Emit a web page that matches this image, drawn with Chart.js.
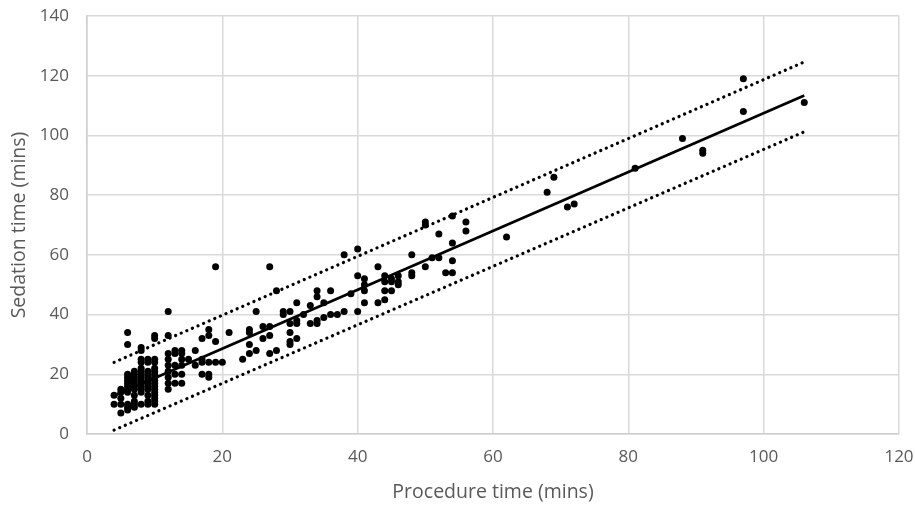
<!DOCTYPE html>
<html>
<head>
<meta charset="utf-8">
<script src="https://cdn.jsdelivr.net/npm/chart.js@4.4.1/dist/chart.umd.min.js"></script>
<style>
  html, body { margin: 0; padding: 0; background: #fff; }
  #wrap { width: 915px; height: 506px; }
</style>
</head>
<body>
<div id="wrap"><canvas id="sedationChart"></canvas></div>
<script>
// procedure time (x) and sedation time (y), one entry per patient
const procTime = [
  4, 4,
  5, 5, 5, 5, 5,
  6, 6, 6, 6, 6, 6, 6, 6, 6, 6, 6, 6,
  7, 7, 7, 7, 7, 7, 7, 7, 7, 7, 7,
  8, 8, 8, 8, 8, 8, 8, 8, 8, 8, 8, 8, 8, 8,
  9, 9, 9, 9, 9, 9, 9, 9, 9, 9, 9, 9,
  10, 10, 10, 10, 10, 10, 10, 10, 10, 10, 10, 10, 10, 10, 10, 10, 10,
  12, 12, 12, 12, 12, 12, 12, 12, 12,
  13, 13, 13, 13, 13,
  14, 14, 14, 14, 14, 14,
  15, 16, 16,
  17, 17, 17, 17,
  18, 18, 18, 18, 18,
  19, 19, 19, 20, 21, 23,
  24, 24, 24, 24, 25, 25, 26, 26,
  27, 27, 27, 27, 28, 28, 29, 29,
  30, 30, 30, 30, 30, 31, 31, 31, 31, 32,
  33, 33, 34, 34, 34, 34, 35, 35, 36, 36, 37,
  38, 38, 39, 40, 40, 40, 41, 41, 41, 41,
  43, 43, 44, 44, 44, 44, 45, 45, 45, 46, 46, 46,
  48, 48, 48, 50, 50, 50, 51, 52, 52, 53, 54, 54, 54, 54, 56, 56,
  62, 68, 69, 71, 72, 81, 88, 91, 91, 97, 97, 106
];
const sedTime = [
  10, 13,
  7, 10, 12, 14, 15,
  8, 9, 10, 14, 15, 16, 17, 18, 19, 20, 30, 34,
  9, 10, 11, 13, 15, 16, 17, 18, 19, 20, 21,
  10, 14, 15, 16, 17, 18, 19, 20, 21, 22, 24, 25, 28, 29,
  10, 11, 13, 15, 16, 17, 18, 19, 20, 21, 24, 25,
  10, 11, 12, 13, 14, 15, 16, 17, 18, 19, 20, 21, 22, 24, 25, 32, 33,
  15, 17, 19, 21, 23, 25, 27, 33, 41,
  17, 20, 23, 27, 28,
  17, 20, 23, 25, 27, 28,
  25, 23, 28,
  20, 24, 25, 32,
  19, 20, 24, 33, 35,
  24, 31, 56, 24, 34, 25,
  27, 30, 34, 35, 28, 41, 32, 36,
  27, 33, 36, 56, 28, 48, 40, 41,
  30, 31, 34, 37, 41, 32, 37, 38, 44, 40,
  37, 43, 37, 38, 46, 48, 39, 44, 40, 48, 40,
  41, 60, 47, 41, 53, 62, 44, 48, 50, 52,
  44, 56, 45, 48, 51, 53, 48, 51, 52, 50, 51, 53,
  53, 54, 60, 56, 70, 71, 59, 59, 67, 54, 54, 58, 64, 73, 68, 71,
  66, 81, 86, 76, 77, 89, 99, 94, 95, 108, 119, 111
];

const fitX = [4, 106];
const fitY = [12.8, 113.4];
const upperY = [24.0, 124.6];
const lowerY = [1.3, 101.2];

const xTicks = [0, 20, 40, 60, 80, 100, 120];
const yTicks = [0, 20, 40, 60, 80, 100, 120, 140];

function initChart() {
  const ctx = document.getElementById('sedationChart').getContext('2d');

  Chart.defaults.color = '#595959';
  Chart.defaults.font.family = "'Open Sans', sans-serif";
  Chart.defaults.font.size = 17;

  const points = procTime.map((x, i) => ({ x: x, y: sedTime[i] }));
  const toLine = ys => fitX.map((x, i) => ({ x: x, y: ys[i] }));

  const dotted = {
    showLine: true,
    borderColor: '#000',
    borderWidth: 3.2,
    borderDash: [0.1, 6],
    borderCapStyle: 'round',
    pointRadius: 0,
    pointHoverRadius: 0
  };

  new Chart(ctx, {
    type: 'scatter',
    data: {
      datasets: [
        {
          label: 'Patients',
          data: points,
          backgroundColor: '#000',
          borderColor: '#000',
          pointRadius: 3.5,
          borderWidth: 0
        },
        {
          label: 'Fit',
          data: toLine(fitY),
          showLine: true,
          borderColor: '#000',
          borderWidth: 2.8,
          pointRadius: 0,
          pointHoverRadius: 0
        },
        Object.assign({ label: 'Upper', data: toLine(upperY) }, dotted),
        Object.assign({ label: 'Lower', data: toLine(lowerY) }, dotted)
      ]
    },
    options: {
      responsive: true,
      maintainAspectRatio: false,
      animation: false,
      layout: { padding: { left: 0, right: 16, top: 16, bottom: 0 } },
      plugins: {
        legend: { display: false },
        tooltip: { enabled: false }
      },
      scales: {
        x: {
          type: 'linear',
          min: 0,
          max: 120,
          afterBuildTicks: scale => { scale.ticks = xTicks.map(v => ({ value: v })); },
          afterFit: scale => {
            scale.height = 72;
            scale.paddingLeft = 0;
            scale.paddingRight = 0;
          },
          grid: { color: '#d9d9d9', lineWidth: 1.5, drawTicks: false },
          border: { color: '#cfcfcf', width: 1.5 },
          ticks: { padding: 13 },
          title: {
            display: true,
            text: 'Procedure time (mins)',
            font: { size: 19.5 },
            padding: { top: 0, bottom: 2 }
          }
        },
        y: {
          type: 'linear',
          min: 0,
          max: 140,
          afterBuildTicks: scale => { scale.ticks = yTicks.map(v => ({ value: v })); },
          afterFit: scale => {
            scale.width = 87;
            scale.paddingTop = 0;
            scale.paddingBottom = 0;
          },
          grid: { color: '#d9d9d9', lineWidth: 1.5, drawTicks: false },
          border: { color: '#cfcfcf', width: 1.5 },
          ticks: { padding: 18 },
          title: {
            display: true,
            text: 'Sedation time (mins)',
            font: { size: 19.5 },
            padding: { top: 8, bottom: 0 }
          }
        }
      }
    }
  });
}

document.addEventListener('DOMContentLoaded', () => {
  if (typeof Chart !== 'undefined') {
    initChart();
  } else {
    console.error("Chart.js failed to load");
  }
});
</script>
</body>
</html>
